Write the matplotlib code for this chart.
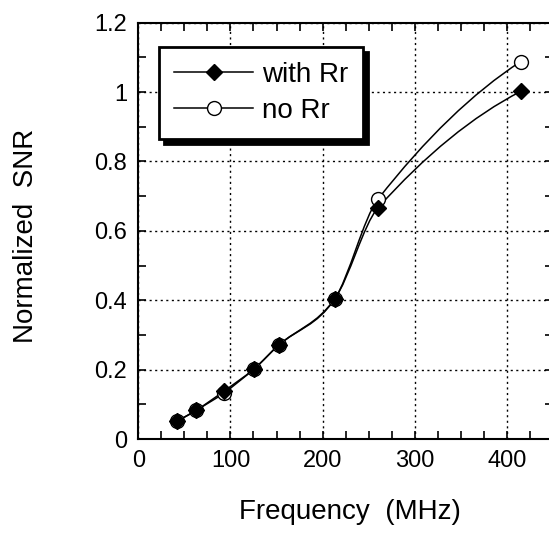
import numpy as np
import matplotlib.pyplot as plt
from matplotlib.path import Path
from matplotlib.patches import PathPatch, Shadow
from matplotlib.lines import Line2D
from matplotlib.ticker import MultipleLocator

plt.rcParams['font.family'] = ['Liberation Sans', 'DejaVu Sans']

# values
freq = [42, 63, 93, 126, 153, 213, 260, 415]
snr_with_rr = [0.052, 0.083, 0.138, 0.203, 0.272, 0.403, 0.666, 1.002]
snr_no_rr = [0.052, 0.083, 0.133, 0.203, 0.272, 0.403, 0.691, 1.088]
series_labels = ["with Rr", "no Rr"]


def smooth_path(x, y):
    """Bezier path through the points (like the smoothed lines of the original)."""
    x = np.asarray(x, float)
    y = np.asarray(y, float)
    n = len(x)
    sec = np.diff(y) / np.diff(x)
    m = np.empty(n)
    m[1:-1] = (y[2:] - y[:-2]) / (x[2:] - x[:-2])
    m[0] = 2 * sec[0] - m[1]
    m[-1] = 2 * sec[-1] - m[-2]
    verts = [(x[0], y[0])]
    codes = [Path.MOVETO]
    for i in range(n - 1):
        d = (x[i + 1] - x[i]) / 3
        verts += [(x[i] + d, y[i] + d * m[i]),
                  (x[i + 1] - d, y[i + 1] - d * m[i + 1]),
                  (x[i + 1], y[i + 1])]
        codes += [Path.CURVE4] * 3
    return Path(verts, codes)


fig = plt.figure(figsize=(5.49, 5.33), dpi=100)
ax = fig.add_axes([138.3 / 549, 94 / 533, 414.7 / 549, 416.3 / 533])

for ys in (snr_no_rr, snr_with_rr):
    ax.add_patch(PathPatch(smooth_path(freq, ys), fill=False, lw=1.1, ec='black', zorder=3))

ax.plot(freq, snr_no_rr, ls='none', marker='o', ms=10, mfc='white', mec='black', mew=1.0, zorder=4)
ax.plot(freq, snr_with_rr, ls='none', marker='D', ms=8, mfc='black', mec='black', zorder=5)

ax.set_xlim(0, 450)
ax.set_ylim(0, 1.2)
ax.xaxis.set_major_locator(MultipleLocator(100))
ax.xaxis.set_minor_locator(MultipleLocator(25))
ax.yaxis.set_minor_locator(MultipleLocator(0.1))
ax.set_yticks(np.arange(0, 1.21, 0.2))
ax.set_yticklabels(['0', '0.2', '0.4', '0.6', '0.8', '1', '1.2'])

ax.tick_params(which='both', direction='in', top=True, right=True, length=6, width=1.2,
               labelsize=17, pad=8)
ax.grid(True, which='major', color='black', linestyle=(0, (1.5, 2.5)), linewidth=1.0)
for s in ax.spines.values():
    s.set_linewidth(1.5)

ax.set_xlabel("Frequency  (MHz)", fontsize=20, va='baseline')
ax.xaxis.set_label_coords(0.51, -0.192)
ax.set_ylabel("Normalized  SNR", fontsize=20, va='baseline')
ax.yaxis.set_label_coords(-0.254, 0.488)

handles = [Line2D([], [], color='black', lw=1.1, marker='D', ms=8, mfc='black'),
           Line2D([], [], color='black', lw=1.1, marker='o', ms=10, mfc='white', mew=1.0)]
leg = ax.legend(handles, series_labels, loc='upper left', bbox_to_anchor=(0.05, 0.942),
                fontsize=20, frameon=True, fancybox=False, handlelength=2.85,
                handletextpad=0.3, labelspacing=0.34, borderpad=0.55, borderaxespad=0)
frame = leg.get_frame()
frame.set_edgecolor('black')
frame.set_linewidth(2.0)
frame.set_alpha(1.0)

# heavy black drop shadow behind the legend box
shadow = Shadow(frame, 3.5, -3.5, facecolor='black', edgecolor='black', alpha=1.0)
shadow.set_zorder(leg.get_zorder() - 0.1)
ax.add_artist(shadow)

fig.canvas.draw()
fig.savefig('out.png', dpi=100)
